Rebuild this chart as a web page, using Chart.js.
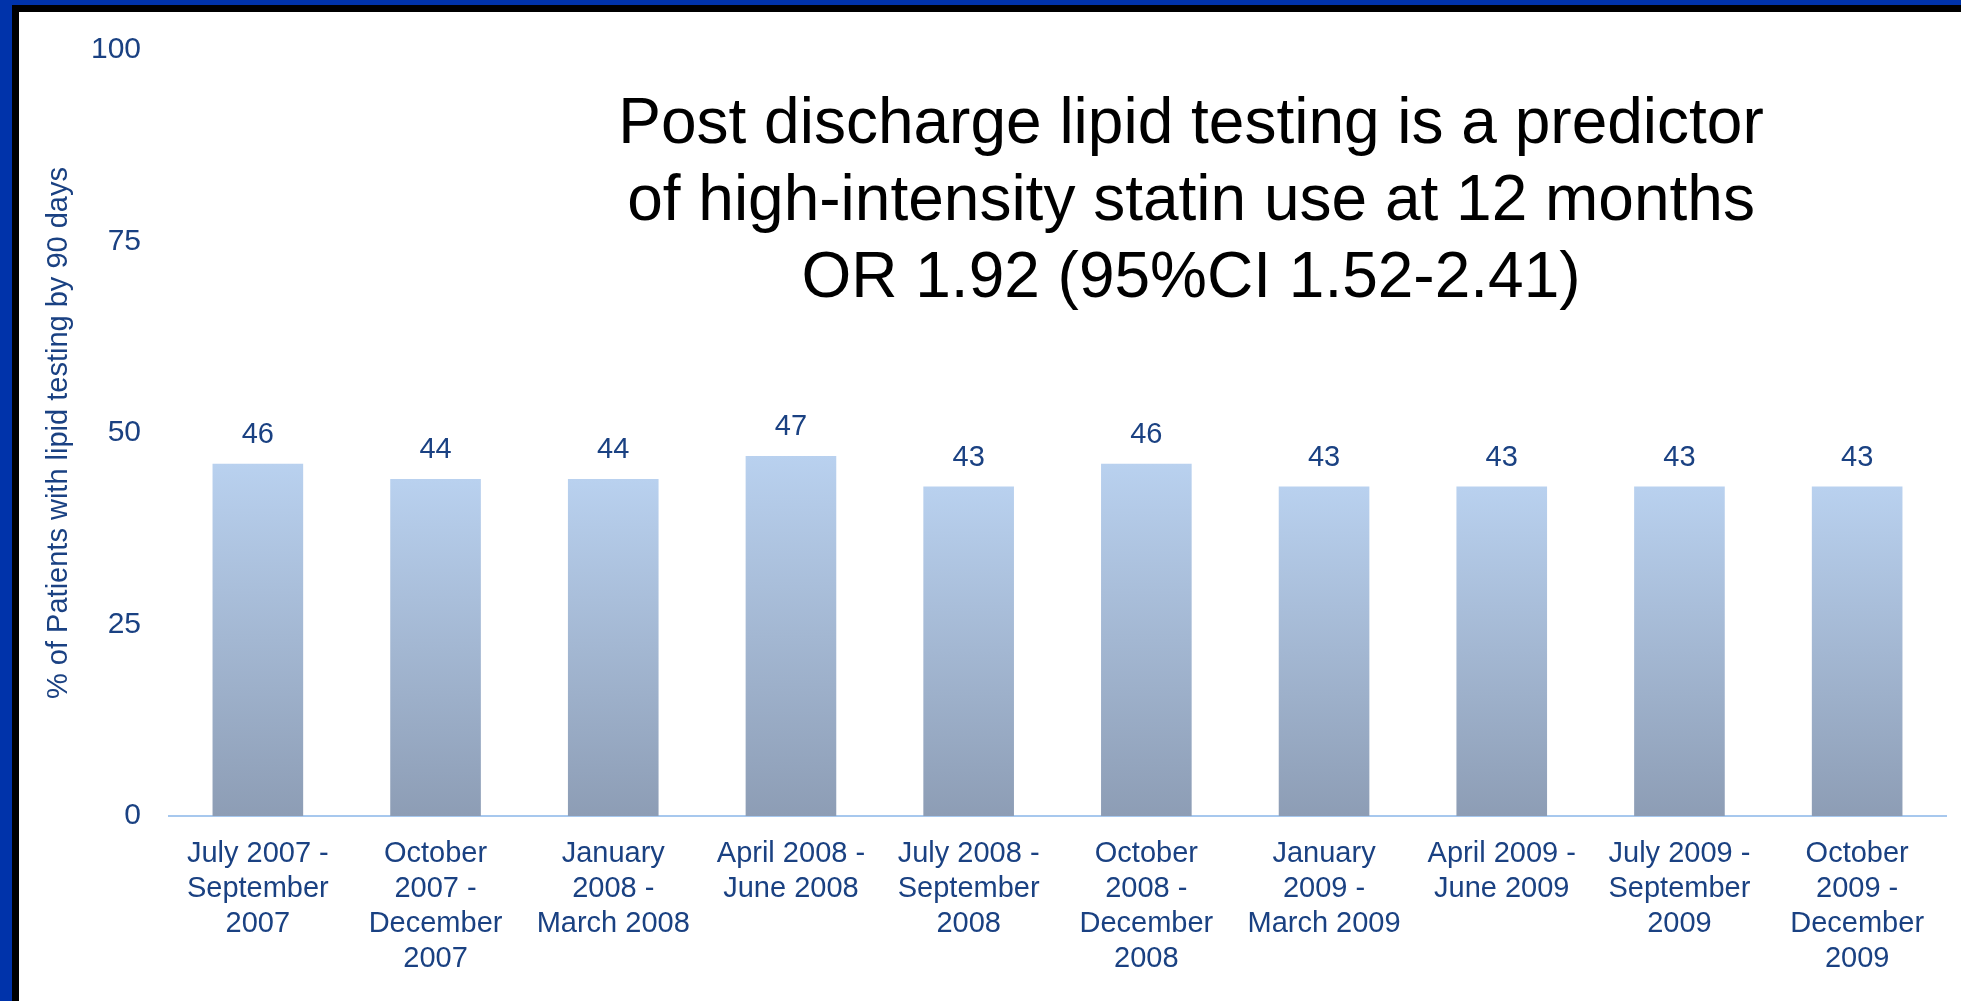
<!DOCTYPE html>
<html>
<head>
<meta charset="utf-8">
<script src="https://cdn.jsdelivr.net/npm/chart.js@4/dist/chart.umd.min.js"></script>
<style>
    html, body { margin: 0; padding: 0; background: #0033aa; overflow: hidden; }
    #wrap { position: relative; width: 1961px; height: 1001px; }
    #panel {
        position: absolute; left: 12px; top: 5px; right: 0; bottom: 0;
        border-left: 7px solid #000; border-top: 7px solid #000;
        background: #fff;
    }
    #lipid-chart { position: absolute; left: 0; top: 0; }
</style>
</head>
<body>
<div id="wrap">
    <div id="panel"></div>
    <canvas id="lipid-chart" width="1961" height="1001"></canvas>
</div>
<script>
// data //
//////////
var periods = [
    ["July 2007 -", "September", "2007"],
    ["October", "2007 -", "December", "2007"],
    ["January", "2008 -", "March 2008"],
    ["April 2008 -", "June 2008"],
    ["July 2008 -", "September", "2008"],
    ["October", "2008 -", "December", "2008"],
    ["January", "2009 -", "March 2009"],
    ["April 2009 -", "June 2009"],
    ["July 2009 -", "September", "2009"],
    ["October", "2009 -", "December", "2009"]
]
var pctTested = [46, 44, 44, 47, 43, 46, 43, 43, 43, 43]
var yTitle = "% of Patients with lipid testing by 90 days"
var headline = [
    "Post discharge lipid testing is a predictor",
    "of high-intensity statin use at 12 months",
    "OR 1.92 (95%CI 1.52-2.41)"
]

var textBlue = "#1a4182"
var chartFont = "'Liberation Sans', Arial, sans-serif"

// gradient per bar, light blue on top to grey-blue at the base
function barFill(ctx) {
    var chart = ctx.chart
    if (!chart.chartArea) return "#a9bedb"
    var y = chart.scales.y
    var top = y.getPixelForValue(ctx.raw)
    var bottom = y.getPixelForValue(0)
    var g = chart.ctx.createLinearGradient(0, top, 0, bottom)
    g.addColorStop(0, "#b9d1ef")
    g.addColorStop(1, "#8d9db5")
    return g
}

// value labels above bars
const valueLabels = {
    id: "valueLabels",
    afterDatasetsDraw(chart) {
        var ctx = chart.ctx
        var meta = chart.getDatasetMeta(0)
        ctx.save()
        ctx.fillStyle = textBlue
        ctx.font = "29px " + chartFont
        ctx.textAlign = "center"
        ctx.textBaseline = "middle"
        meta.data.forEach(function (bar, i) {
            ctx.fillText(pctTested[i], bar.x, bar.y - 29)
        })
        ctx.restore()
    }
}

// headline text inside the plot
const headlineText = {
    id: "headlineText",
    afterDraw(chart) {
        var ctx = chart.ctx
        ctx.save()
        ctx.fillStyle = "#000"
        ctx.font = "64px " + chartFont
        ctx.textAlign = "center"
        ctx.textBaseline = "middle"
        for (var i = 0; i < headline.length; i++) {
            ctx.fillText(headline[i], 1191, 125 + i * 77)
        }
        ctx.restore()
    }
}

var chart = new Chart(document.getElementById("lipid-chart"), {
    type: "bar",
    data: {
        labels: periods,
        datasets: [{
            data: pctTested,
            backgroundColor: barFill,
            borderWidth: 0,
            barPercentage: 0.51,
            categoryPercentage: 1
        }]
    },
    options: {
        responsive: false,
        animation: false,
        layout: { padding: { top: 50, left: 0, right: 15, bottom: 0 } },
        plugins: {
            legend: { display: false },
            tooltip: { enabled: false }
        },
        scales: {
            x: {
                grid: { display: false, drawTicks: false },
                border: { display: true, color: "#a7c8ee", width: 2 },
                ticks: {
                    color: textBlue,
                    padding: 21,
                    maxRotation: 0,
                    autoSkip: false,
                    font: { family: chartFont, size: 29, lineHeight: 1.2 }
                },
                afterFit: function (scale) { scale.height = 185 }
            },
            y: {
                min: 0,
                max: 100,
                grid: { display: false, drawTicks: false },
                border: { display: false },
                ticks: {
                    stepSize: 25,
                    color: textBlue,
                    padding: 28,
                    font: { family: chartFont, size: 30 }
                },
                title: {
                    display: true,
                    text: yTitle,
                    color: textBlue,
                    padding: { top: 42, bottom: 0 },
                    font: { family: chartFont, size: 29, lineHeight: 1.2 }
                },
                afterFit: function (scale) { scale.width = 169 }
            }
        }
    },
    plugins: [valueLabels, headlineText]
})
</script>
</body>
</html>
